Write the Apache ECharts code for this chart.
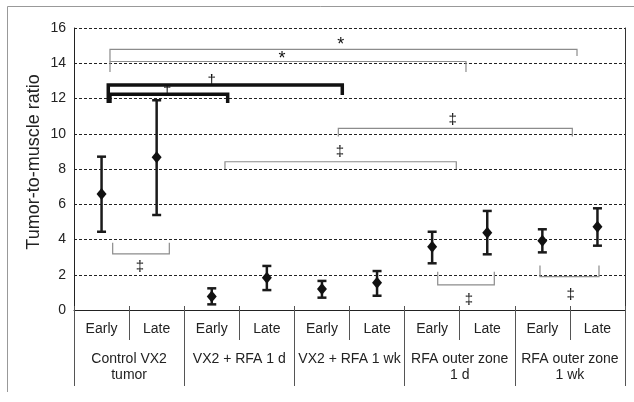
<!DOCTYPE html>
<html><head><meta charset="utf-8">
<script src="https://cdn.jsdelivr.net/npm/echarts@6/dist/echarts.min.js"></script>
<style>html,body{margin:0;padding:0;background:#fff}#c{width:634px;height:402px}</style>
</head><body><div id="c"></div>
<script>
const categories = ['Early','Late','Early','Late','Early','Late','Early','Late','Early','Late'];
const groups = ['Control VX2\ntumor','VX2 + RFA 1 d','VX2 + RFA 1 wk','RFA outer zone\n1 d','RFA outer zone\n1 wk'];
const means = [6.58, 8.66, 0.76, 1.83, 1.19, 1.55, 3.59, 4.39, 3.93, 4.73];
const upper = [8.70, 11.90, 1.23, 2.50, 1.65, 2.21, 4.44, 5.62, 4.58, 5.77];
const lower = [4.44, 5.39, 0.32, 1.13, 0.70, 0.81, 2.65, 3.16, 3.27, 3.65];
// brackets: [xStart, xEnd, yBar, yEndLeft, yEndRight] in data units (category index, ratio)
const thinBrackets = [
  [0.153, 8.629, 14.79, 14.10, 14.41],
  [0.153, 6.614, 14.10, 13.50, 13.50],
  [4.297, 8.544, 10.30, 9.84, 9.84],
  [2.240, 6.438, 8.41, 8.00, 8.00],
  [0.202, 1.230, 3.18, 3.82, 3.82],
  [6.101, 7.128, 1.42, 2.17, 2.17],
  [7.957, 9.028, 1.89, 2.52, 2.52]
];
const thickBrackets = [
  [0.122, 4.369, 12.77, 11.74, 12.20],
  [0.153, 2.289, 12.24, 11.74, 11.74]
];
const sigX = [4.34, 3.275, 2.0, 1.193, 6.373, 4.328, 0.698, 6.669, 8.514];
const sigY = [15.04, 14.24, 13.01, 12.44, 10.78, 8.98, 2.46, 0.57, 0.85];
const sigText = ['*', '*', '\u2020', '\u2020', '\u2021', '\u2021', '\u2021', '\u2021', '\u2021'];

const FONT = "'Liberation Sans', Arial, sans-serif";
const chart = echarts.init(document.getElementById('c'));

function bracketItem(color, width) {
  return function (params, api) {
    const p1 = api.coord([api.value(0), api.value(3)]);
    const p2 = api.coord([api.value(0), api.value(2)]);
    const p3 = api.coord([api.value(1), api.value(2)]);
    const p4 = api.coord([api.value(1), api.value(4)]);
    return { type: 'polyline', shape: { points: [p1, p2, p3, p4] },
      style: { stroke: color, lineWidth: width, fill: null, lineJoin: 'miter' } };
  };
}

chart.setOption({
  animation: false,
  backgroundColor: '#fff',
  grid: { left: 74, right: 9, top: 28, bottom: 92, containLabel: false },
  xAxis: [
    { type: 'category', data: categories, position: 'bottom', offset: -4,
      axisLine: { show: false, onZero: false },
      axisTick: { show: true, interval: 0, length: 34, lineStyle: { color: '#555' } },
      axisLabel: { interval: 0, margin: 16, fontSize: 14, color: '#222', fontFamily: FONT } },
    { type: 'category', data: groups, position: 'bottom', offset: -4,
      axisLine: { show: false, onZero: false },
      axisTick: { show: true, interval: 0, length: 80, lineStyle: { color: '#555' } },
      axisLabel: { interval: 0, margin: 45, fontSize: 14, lineHeight: 16, color: '#222', fontFamily: FONT } },
    { type: 'value', min: -0.5, max: 9.5, show: false },
    { type: 'category', data: categories, position: 'bottom',
      axisLine: { show: true, onZero: false, lineStyle: { color: '#222', width: 1 } },
      axisTick: { show: false }, axisLabel: { show: false } }
  ],
  yAxis: [
    { type: 'value', min: 0, max: 16, interval: 2, position: 'left',
      axisLine: { show: true, onZero: false, lineStyle: { color: '#222' } },
      axisTick: { show: false },
      axisLabel: { margin: 8, fontSize: 14, color: '#222', fontFamily: FONT },
      splitLine: { show: true, lineStyle: { color: '#222', type: [3, 2], width: 1 } } },
    { type: 'value', min: 0, max: 16, interval: 2, position: 'right',
      axisLine: { show: true, onZero: false, lineStyle: { color: '#333' } },
      axisTick: { show: false }, axisLabel: { show: false }, splitLine: { show: false } }
  ],
  graphic: [
    { type: 'line', shape: { x1: 7.5, y1: 6.5, x2: 634, y2: 6.5 }, style: { stroke: '#999', lineWidth: 1 } },
    { type: 'line', shape: { x1: 7.5, y1: 6.5, x2: 7.5, y2: 392 }, style: { stroke: '#999', lineWidth: 1 } },
    { type: 'text', x: 34, y: 162, rotation: Math.PI / 2,
      style: { text: 'Tumor-to-muscle ratio', font: '18px ' + FONT, fill: '#222', align: 'center', verticalAlign: 'middle' } }
  ],
  series: [
    { type: 'custom', xAxisIndex: 2, yAxisIndex: 0, data: thinBrackets, z: 3,
      renderItem: bracketItem('#8c8c8c', 1.2) },
    { type: 'custom', xAxisIndex: 2, yAxisIndex: 0, data: thickBrackets, z: 4,
      renderItem: bracketItem('#111', 3.5) },
    { type: 'custom', xAxisIndex: 0, yAxisIndex: 0, z: 5,
      data: means.map((m, i) => [i, lower[i], upper[i]]),
      renderItem: function (params, api) {
        const lo = api.coord([api.value(0), api.value(1)]);
        const hi = api.coord([api.value(0), api.value(2)]);
        const hw = 4.5;
        const st = { stroke: '#1a1a1a', lineWidth: 2.5 };
        return { type: 'group', children: [
          { type: 'line', shape: { x1: lo[0], y1: lo[1], x2: hi[0], y2: hi[1] }, style: st },
          { type: 'line', shape: { x1: lo[0] - hw, y1: lo[1], x2: lo[0] + hw, y2: lo[1] }, style: st },
          { type: 'line', shape: { x1: hi[0] - hw, y1: hi[1], x2: hi[0] + hw, y2: hi[1] }, style: st }
        ] };
      } },
    { type: 'scatter', xAxisIndex: 0, yAxisIndex: 0, z: 6, data: means,
      symbol: 'diamond', symbolSize: [10, 12], itemStyle: { color: '#111', opacity: 1 } },
    { type: 'custom', xAxisIndex: 2, yAxisIndex: 0, z: 7,
      data: sigX.map((x, i) => [x, sigY[i]]),
      renderItem: function (params, api) {
        const p = api.coord([api.value(0), api.value(1)]);
        const t = sigText[params.dataIndex];
        return { type: 'text', x: p[0], y: p[1],
          style: { text: t, font: (t === '*' ? '18px ' : '15px ') + FONT, fill: '#111', align: 'center', verticalAlign: 'middle' } };
      } }
  ]
});
</script></body></html>
